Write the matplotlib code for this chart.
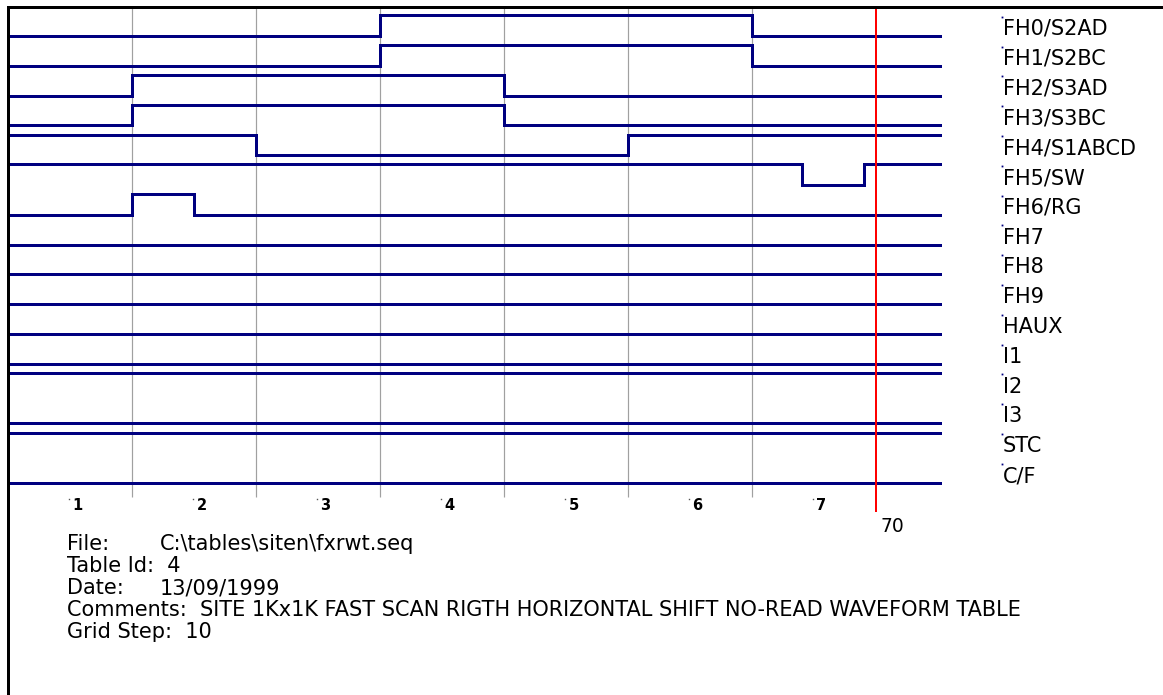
import matplotlib
matplotlib.use("Agg")
import matplotlib.pyplot as plt

# ---------------- data ----------------
signal_names = ["FH0/S2AD", "FH1/S2BC", "FH2/S3AD", "FH3/S3BC", "FH4/S1ABCD",
                "FH5/SW", "FH6/RG", "FH7", "FH8", "FH9", "HAUX",
                "I1", "I2", "I3", "STC", "C/F"]
# times at which each signal changes level, and the level it takes
edge_times = [
    [0, 30, 60],
    [0, 30, 60],
    [0, 10, 40],
    [0, 10, 40],
    [0, 20, 50],
    [0, 64, 69],
    [0, 10, 15],
    [0], [0], [0], [0],
    [0], [0], [0], [0], [0],
]
edge_levels = [
    [0, 1, 0],
    [0, 1, 0],
    [0, 1, 0],
    [0, 1, 0],
    [1, 0, 1],
    [1, 0, 1],
    [0, 1, 0],
    [0], [0], [0], [0],
    [0], [1], [0], [1], [0],
]
end_time = 75.2
grid_times = [10, 20, 30, 40, 50, 60]
cursor_time = 70
cursor_label = "70"
tick_labels = ["1", "2", "3", "4", "5", "6", "7"]
tick_positions = [5, 15, 25, 35, 45, 55, 65]
file_label, file_value = "File:", "C:\\tables\\siten\\fxrwt.seq"
table_line = "Table Id:  4"
date_label, date_value = "Date:", "13/09/1999"
comments_line = ("Comments:  SITE 1Kx1K FAST SCAN RIGTH HORIZONTAL SHIFT "
                 "NO-READ WAVEFORM TABLE")
grid_line = "Grid Step:  10"

# ---------------- layout ----------------
W, H = 1163, 695
PX_X0, PX_PER_T = 8.0, 12.4        # x pixel of t=0, pixels per time unit
PX_Y0, PX_ROW = 36.0, 29.8         # y pixel of row-0 baseline, row pitch
AMP = 20.7 / PX_ROW                # high level height in row units


def py2y(py):
    return -(py - PX_Y0) / PX_ROW


def px2t(px):
    return (px - PX_X0) / PX_PER_T


fig = plt.figure(figsize=(W / 100, H / 100), dpi=100)
fig.patch.set_facecolor("white")
ax = fig.add_axes([0, 0, 1, 1])
ax.set_xlim(px2t(0), px2t(W))
ax.set_ylim(py2y(H), py2y(0))
ax.axis("off")

navy = "#000080"
font = "DejaVu Sans"
PT = 72.0 / 100  # points per pixel
FS = 15

# grid lines
ax.vlines(grid_times, py2y(497), py2y(7), colors="#a0a0a0",
          linewidth=1.2 * PT, zorder=1)
# cursor
ax.vlines([cursor_time], py2y(512), py2y(7), colors="#ff0000",
          linewidth=2.0 * PT, zorder=4)

# signals
for i, (ts, lv) in enumerate(zip(edge_times, edge_levels)):
    xs = list(ts) + [end_time]
    ys = [-i + AMP * v for v in lv] + [-i + AMP * lv[-1]]
    ax.plot(xs, ys, drawstyle="steps-post", color=navy, linewidth=3.0 * PT,
            solid_joinstyle="miter", zorder=3)
    ax.plot([px2t(1001.5)], [-i + 19.3 / PX_ROW], marker="s", markersize=1.3,
            color=navy, markeredgewidth=0, zorder=3)
    ax.text(px2t(1003), -i + 7.0 / PX_ROW, signal_names[i], fontsize=FS,
            family=font, ha="left", va="center", color="black")

# frame (left and top border)
ax.plot([0, 0], [py2y(7), py2y(H + 5)], color="black", linewidth=3.0 * PT,
        solid_capstyle="projecting", zorder=5)
ax.plot([0, px2t(W + 5)], [py2y(7), py2y(7)], color="black",
        linewidth=3.0 * PT, solid_capstyle="projecting", zorder=5)

# tick labels
for pos, lab in zip(tick_positions, tick_labels):
    ax.plot([pos - 0.05], [py2y(499)], marker="s", markersize=1.0,
            color="#555555", markeredgewidth=0)
    ax.text(pos + 0.2, py2y(506), lab, fontsize=10.5, fontweight="bold",
            family=font, ha="left", va="center", color="black")

ax.text(cursor_time + 0.4, py2y(526), cursor_label, fontsize=13.5,
        family=font, ha="left", va="center", color="black")

# info text block
x_lab = px2t(67)
x_tab = px2t(160)
ax.text(x_lab, py2y(544), file_label, fontsize=FS, family=font,
        ha="left", va="center")
ax.text(x_tab, py2y(544), file_value, fontsize=FS, family=font,
        ha="left", va="center")
ax.text(x_lab, py2y(566), table_line, fontsize=FS, family=font,
        ha="left", va="center")
ax.text(x_lab, py2y(588), date_label, fontsize=FS, family=font,
        ha="left", va="center")
ax.text(x_tab, py2y(588), date_value, fontsize=FS, family=font,
        ha="left", va="center")
ax.text(x_lab, py2y(610), comments_line, fontsize=FS, family=font,
        ha="left", va="center")
ax.text(x_lab, py2y(632), grid_line, fontsize=FS, family=font,
        ha="left", va="center")

fig.savefig("out.png", dpi=100, facecolor="white")
